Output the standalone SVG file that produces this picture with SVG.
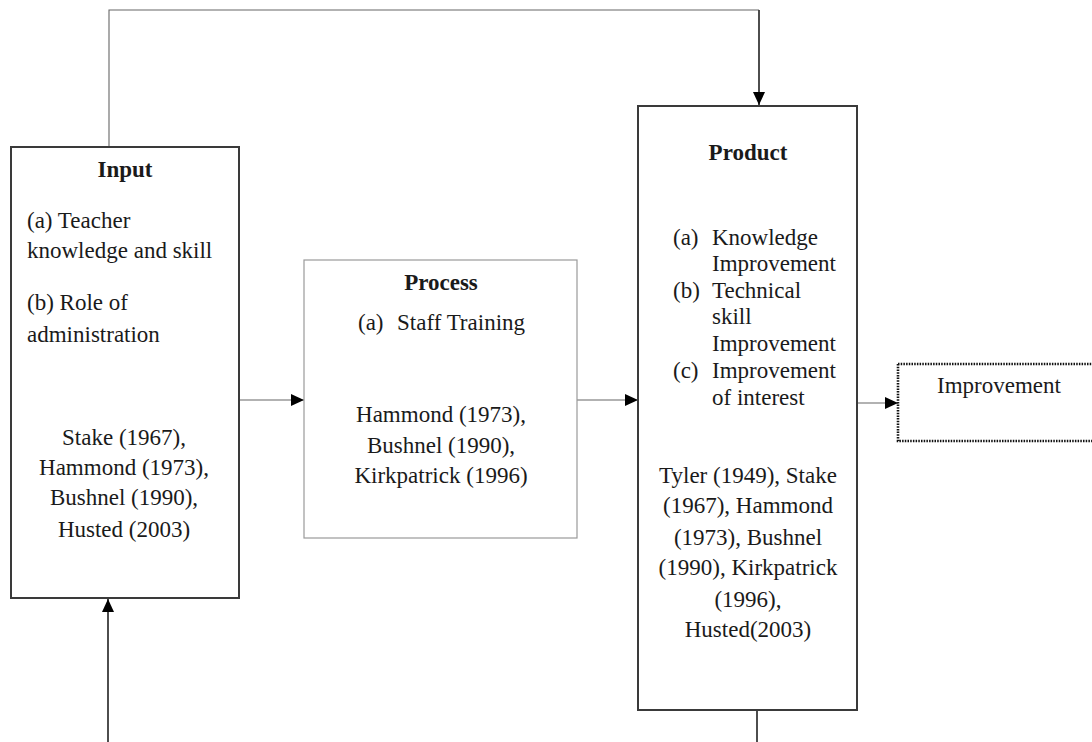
<svg xmlns="http://www.w3.org/2000/svg" width="1092" height="742" viewBox="0 0 1092 742">
  <style>
    text { font-family: "Liberation Serif", "Times New Roman", serif; font-size: 23px; fill: #1a1a1a; }
    .title { font-weight: bold; }
    .mid { text-anchor: middle; }
    .box { fill: #ffffff; stroke: #3a3a3a; stroke-width: 2; }
    .box-light { fill: #ffffff; stroke: #9a9a9a; stroke-width: 1.2; }
    .box-dotted { fill: #ffffff; stroke: #111; stroke-width: 2.6; stroke-dasharray: 1.5 1.2; }
    .wire { fill: none; stroke: #3a3a3a; stroke-width: 1.8; }
    .wire-thin { fill: none; stroke: #666; stroke-width: 1.1; }
  </style>
  <defs>
    <marker id="arrow" markerUnits="userSpaceOnUse" markerWidth="14" markerHeight="12" refX="13" refY="6" orient="auto">
      <path d="M0,0 L13,6 L0,12 Z" fill="#000"/>
    </marker>
  </defs>

  <rect width="1092" height="742" fill="#ffffff"/>

  <!-- connectors -->
  <g id="connectors">
    <path class="wire-thin" d="M109,147 V10 H759"/>
    <path class="wire" d="M759,10 V105" marker-end="url(#arrow)"/>
    <path class="wire" d="M108,742 V599" marker-end="url(#arrow)"/>
    <path class="wire" d="M757,710 V742"/>
    <path class="wire-thin" d="M239,400 H304" marker-end="url(#arrow)"/>
    <path class="wire-thin" d="M577,400 H638" marker-end="url(#arrow)"/>
    <path class="wire-thin" d="M857,403 H898" marker-end="url(#arrow)"/>
  </g>

  <!-- Input -->
  <g id="input">
    <rect class="box" x="11" y="147" width="228" height="451"/>
    <text class="title mid" x="125" y="177">Input</text>
    <text x="27" y="228">(a) Teacher</text>
    <text x="27" y="258">knowledge and skill</text>
    <text x="27" y="310">(b) Role of</text>
    <text x="27" y="342">administration</text>
    <text class="mid" x="124" y="445">Stake (1967),</text>
    <text class="mid" x="124" y="475">Hammond (1973),</text>
    <text class="mid" x="124" y="505">Bushnel (1990),</text>
    <text class="mid" x="124" y="537">Husted (2003)</text>
  </g>

  <!-- Process -->
  <g id="process">
    <rect class="box-light" x="304" y="260" width="273" height="278"/>
    <text class="title mid" x="441" y="290">Process</text>
    <text x="358" y="330">(a)</text>
    <text x="397" y="330">Staff Training</text>
    <text class="mid" x="441" y="422">Hammond (1973),</text>
    <text class="mid" x="441" y="453">Bushnel (1990),</text>
    <text class="mid" x="441" y="483">Kirkpatrick (1996)</text>
  </g>

  <!-- Product -->
  <g id="product">
    <rect class="box" x="638" y="106" width="219" height="604"/>
    <text class="title mid" x="748" y="160">Product</text>
    <text x="673" y="245">(a)</text>
    <text x="712" y="245">Knowledge</text>
    <text x="712" y="271">Improvement</text>
    <text x="673" y="298">(b)</text>
    <text x="712" y="298">Technical</text>
    <text x="712" y="324">skill</text>
    <text x="712" y="351">Improvement</text>
    <text x="673" y="378">(c)</text>
    <text x="712" y="378">Improvement</text>
    <text x="712" y="405">of interest</text>
    <text class="mid" x="748" y="483">Tyler (1949), Stake</text>
    <text class="mid" x="748" y="513">(1967), Hammond</text>
    <text class="mid" x="748" y="545">(1973), Bushnel</text>
    <text class="mid" x="748" y="575">(1990), Kirkpatrick</text>
    <text class="mid" x="748" y="607">(1996),</text>
    <text class="mid" x="748" y="637">Husted(2003)</text>
  </g>

  <!-- Improvement -->
  <g id="improvement">
    <rect class="box-dotted" x="898" y="364" width="210" height="77"/>
    <text x="937" y="393">Improvement</text>
  </g>
</svg>
